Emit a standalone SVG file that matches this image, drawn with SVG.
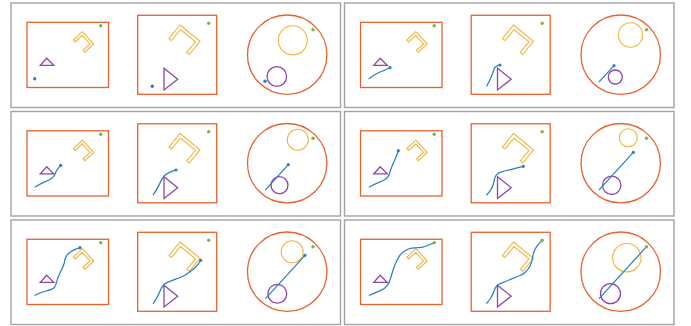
<svg xmlns="http://www.w3.org/2000/svg" xmlns:xlink="http://www.w3.org/1999/xlink" width="691" height="326" viewBox="0 0 691 326">
<style>
.frame{fill:none;stroke:#a3a3a3;stroke-width:1.4}
.env{fill:none;stroke:#e8622e;stroke-width:1.3}
.obsY{fill:none;stroke:#f2b53a;stroke-width:1.1}
.obsP{fill:none;stroke:#8e44ad;stroke-width:1.3}
.path{fill:none;stroke:#2a7fc1;stroke-width:1.25;stroke-linejoin:round;stroke-linecap:round}
.dotB{fill:#2a7fc1}
.dotG{fill:#7ab648}
</style>
<defs>
<g id="statics">
<rect class="env" x="27" y="22.3" width="81.5" height="65.2"/>
<polygon class="obsP" points="46.7,58.3 53.7,65.3 40.3,65.3"/>
<polygon class="obsY" transform="translate(82.3,31.7) rotate(47.2)" points="0,0 16.8,0 16.8,12.1 14.2,12.1 14.2,2.6 2.6,2.6 2.6,12.2 0,12.2"/>
<rect class="env" x="137.7" y="15.3" width="79" height="79"/>
<polygon class="obsP" points="164,68.3 177.7,79.2 164,90"/>
<polygon class="obsY" transform="translate(180,25) rotate(39.2)" points="0,0 25.8,0 25.8,17 22.6,17 22.6,3.2 3.2,3.2 3.2,17.5 0,17.5"/>
<circle class="env" cx="287.2" cy="54.7" r="39.7"/>
</g>
<g id="goals">
<circle class="dotG" cx="100.7" cy="25.7" r="1.7"/>
<circle class="dotG" cx="208.7" cy="23.3" r="1.7"/>
<circle class="dotG" cx="313" cy="29.7" r="1.7"/>
</g>
</defs>
<g id="frames">
<rect class="frame" x="11" y="3" width="329.5" height="104.5"/>
<rect class="frame" x="344.5" y="3" width="329.5" height="104.5"/>
<rect class="frame" x="11" y="111.5" width="329.5" height="104.5"/>
<rect class="frame" x="344.5" y="111.5" width="329.5" height="104.5"/>
<rect class="frame" x="11" y="220" width="329.5" height="104.5"/>
<rect class="frame" x="344.5" y="220" width="329.5" height="104.5"/>
</g>
<g id="panel1">
<use xlink:href="#statics"/>
<use xlink:href="#goals"/>
<circle class="obsY" cx="292.8" cy="40.3" r="14.5"/>
<circle class="obsP" cx="276.8" cy="76.5" r="9.8"/>
<circle class="dotB" cx="34.7" cy="78.7" r="1.7"/>
<circle class="dotB" cx="152.3" cy="86.3" r="1.7"/>
<circle class="dotB" cx="265" cy="81.3" r="1.7"/>
</g>
<g id="panel2" transform="translate(333.5,0)">
<use xlink:href="#statics"/>
<use xlink:href="#goals"/>
<circle class="obsY" cx="297" cy="35" r="12.2"/>
<circle class="obsP" cx="281.8" cy="77" r="7"/>
<path class="path" d="M35.5,78.7 Q43.2,73.3 46.5,72 Q49.8,70.7 53.15,69.2 L56.5,67.7"/>
<circle class="dotB" cx="56.5" cy="67.7" r="1.6"/>
<path class="path" d="M153.2,86 Q156.5,80 157.85,76.65 Q159.2,73.3 159.85,70.8 Q160.5,68.3 161.85,67 Q163.2,65.7 164.85,65.35 L166.5,65"/>
<circle class="dotB" cx="166.5" cy="65" r="1.6"/>
<line class="path" x1="265.8" y1="81.7" x2="280.5" y2="65.7"/>
<circle class="dotB" cx="280.5" cy="65.7" r="1.6"/>
</g>
<g id="panel3" transform="translate(0,108.5)">
<use xlink:href="#statics"/>
<use xlink:href="#goals"/>
<circle class="obsY" cx="297.8" cy="31.3" r="10.5"/>
<circle class="obsP" cx="279.5" cy="76.7" r="8.5"/>
<path class="path" d="M35,78.5 Q41.7,74.5 45.85,72.85 Q50,71.2 52.15,69.5 Q54.3,67.8 55.15,65.3 Q56,62.8 57.15,61.15 Q58.3,59.5 59.5,58.15 L60.7,56.8"/>
<circle class="dotB" cx="60.7" cy="56.8" r="1.6"/>
<path class="path" d="M153.3,86.2 Q156.7,81.2 158.35,77.85 Q160,74.5 161.65,71.15 Q163.3,67.8 165,66.65 Q166.7,65.5 169.2,64.15 Q171.7,62.8 173.85,62.15 L176,61.5"/>
<circle class="dotB" cx="176" cy="61.5" r="1.6"/>
<line class="path" x1="265.7" y1="81.2" x2="288.3" y2="56.2"/>
<circle class="dotB" cx="288.3" cy="56.2" r="1.6"/>
</g>
<g id="panel4" transform="translate(333.5,108.5)">
<use xlink:href="#statics"/>
<use xlink:href="#goals"/>
<circle class="obsY" cx="294.8" cy="29.2" r="9"/>
<circle class="obsP" cx="278.2" cy="76.8" r="9.2"/>
<path class="path" d="M35.8,78.5 Q41.5,75.5 44.85,74.15 Q48.2,72.8 50.7,71.5 Q53.2,70.2 54.5,68.2 Q55.8,66.2 56.5,63.7 Q57.2,61.2 58.5,57.85 Q59.8,54.5 61.15,51.65 Q62.5,48.8 63.65,45.5 L64.8,42.2"/>
<circle class="dotB" cx="64.8" cy="42.2" r="1.6"/>
<path class="path" d="M153.2,86.2 Q158.2,81.2 159.35,77 Q160.5,72.8 161,70.3 Q161.5,67.8 163.15,66.15 Q164.8,64.5 167.3,63.65 Q169.8,62.8 173.15,62 Q176.5,61.2 179.85,60.35 Q183.2,59.5 186.5,58.65 L189.8,57.8"/>
<circle class="dotB" cx="189.8" cy="57.8" r="1.6"/>
<line class="path" x1="265.8" y1="81.2" x2="299.8" y2="43.8"/>
<circle class="dotB" cx="299.8" cy="43.8" r="1.6"/>
</g>
<g id="panel5" transform="translate(0,217)">
<use xlink:href="#statics"/>
<use xlink:href="#goals"/>
<circle class="obsY" cx="292.2" cy="34.8" r="11"/>
<circle class="obsP" cx="277.3" cy="76.8" r="9.4"/>
<path class="path" d="M35,78.3 Q41.7,75 45.85,74 Q50,73 52.5,71.85 Q55,70.7 55.85,67.35 Q56.7,64 58.35,59.85 Q60,55.7 62.15,51.5 Q64.3,47.3 64.65,44 Q65,40.7 66.65,38.5 Q68.3,36.3 70.8,34.65 Q73.3,33 76.65,31.85 L80,30.7"/>
<circle class="dotB" cx="80" cy="30.7" r="1.6"/>
<path class="path" d="M153.3,86.3 Q156.7,81.7 158.35,77.85 Q160,74 161.65,70.65 Q163.3,67.3 166.65,65.65 Q170,64 175,62.35 Q180,60.7 183.35,59 Q186.7,57.3 190,54.8 Q193.3,52.3 195.8,49.8 Q198.3,47.3 199.5,45.3 L200.7,43.3"/>
<circle class="dotB" cx="200.7" cy="43.3" r="1.6"/>
<line class="path" x1="265.7" y1="81.3" x2="305" y2="38.3"/>
<circle class="dotB" cx="305" cy="38.3" r="1.6"/>
</g>
<g id="panel6" transform="translate(333.5,217)">
<use xlink:href="#statics"/>
<circle class="obsY" cx="293.3" cy="40.7" r="14.2"/>
<circle class="obsP" cx="277" cy="76.7" r="10"/>
<path class="path" d="M35.8,78.3 Q43.2,75 47.35,73.35 Q51.5,71.7 53.65,68.7 Q55.8,65.7 57,61.5 Q58.2,57.3 59.85,52.3 Q61.5,47.3 63.15,44 Q64.8,40.7 66.5,38.2 Q68.2,35.7 71.5,33.7 Q74.8,31.7 78.15,31.2 Q81.5,30.7 84.85,30.7 Q88.2,30.7 91.5,29.5 Q94.8,28.3 97.75,27 L100.7,25.7"/>
<path class="path" d="M153.2,86.3 Q158.2,80.7 159.85,75.7 Q161.5,70.7 163.15,69 Q164.8,67.3 169,65.65 Q173.2,64 178.2,61.85 Q183.2,59.7 186.5,58.5 Q189.8,57.3 192.3,54.8 Q194.8,52.3 196.5,49 Q198.2,45.7 199,40.7 Q199.8,35.7 201.5,32.35 Q203.2,29 205.95,26.15 L208.7,23.3"/>
<line class="path" x1="265.8" y1="81.3" x2="313" y2="29.7"/>
<use xlink:href="#goals"/>
</g>
</svg>
